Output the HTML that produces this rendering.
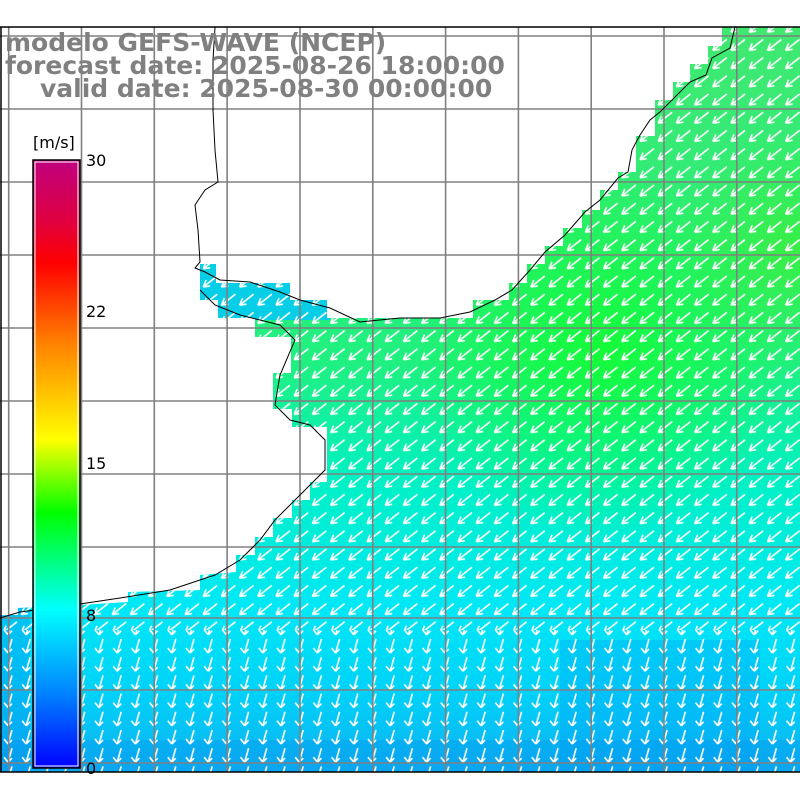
<!DOCTYPE html>
<html><head><meta charset="utf-8"><style>
html,body{margin:0;padding:0;background:#fff;width:800px;height:800px;overflow:hidden}
svg{display:block}
</style></head><body>
<svg width="800" height="800" viewBox="0 0 800 800" xmlns="http://www.w3.org/2000/svg">
<defs>
<linearGradient id="oc" x1="0" y1="0" x2="0" y2="1" gradientUnits="objectBoundingBox">
<stop offset="0" stop-color="#40e870"/>
<stop offset="0.45" stop-color="#20f080"/>
<stop offset="0.62" stop-color="#00f0c8"/>
<stop offset="0.78" stop-color="#00e8f6"/>
<stop offset="0.9" stop-color="#00d0f8"/>
<stop offset="1" stop-color="#10b0f0"/>
</linearGradient>
<radialGradient id="gb" cx="600" cy="350" r="190" gradientUnits="userSpaceOnUse">
<stop offset="0" stop-color="#10ff20" stop-opacity="0.75"/>
<stop offset="1" stop-color="#10ff20" stop-opacity="0"/>
</radialGradient>
<radialGradient id="gb2" cx="790" cy="250" r="120" gradientUnits="userSpaceOnUse">
<stop offset="0" stop-color="#40f020" stop-opacity="0.6"/>
<stop offset="1" stop-color="#40f020" stop-opacity="0"/>
</radialGradient>
<linearGradient id="cb" x1="0" y1="0" x2="0" y2="1">
<stop offset="0" stop-color="#c0007f"/>
<stop offset="0.1" stop-color="#e00040"/>
<stop offset="0.17" stop-color="#ff0000"/>
<stop offset="0.3" stop-color="#ff8000"/>
<stop offset="0.46" stop-color="#ffff00"/>
<stop offset="0.58" stop-color="#00ff00"/>
<stop offset="0.74" stop-color="#00ffff"/>
<stop offset="0.88" stop-color="#0080ff"/>
<stop offset="1" stop-color="#0000ff"/>
</linearGradient>
<pattern id="sw" x="0" y="0" width="18.2" height="18.2" patternUnits="userSpaceOnUse">
<path d="M17,3 L3,14 M3,14 L10,13 M3,14 L6,7" stroke="#fff" stroke-width="1.6" fill="none"/>
</pattern>
<pattern id="dn" x="0" y="0" width="18.2" height="18.2" patternUnits="userSpaceOnUse">
<path d="M12,2 L8,16 M8,16 L4,11 M8,16 L12,12" stroke="#fff" stroke-width="1.6" fill="none"/>
</pattern>
<clipPath id="oclip"><path d="M722,27 L800,27 L800,772 L0,772 L0,615 L18,615 L18,608 L80,605 L128,602 L128,592 L200,590 L200,575 L236,572 L236,555 L255,555 L255,537 L273,537 L273,518 L292,518 L292,500 L310,500 L310,482 L327,482 L327,427 L292,427 L292,409 L273,409 L273,373 L291,373 L291,337 L255,337 L255,318 L218,318 L218,300 L200,300 L200,264 L216,264 L216,283 L290,283 L290,300 L327,300 L327,318 L473,318 L473,300 L509,300 L509,283 L527,283 L527,264 L545,264 L545,246 L563,246 L563,228 L582,228 L582,210 L600,210 L600,190 L618,190 L618,172 L636,172 L636,154 L636,136 L655,136 L655,118 L655,100 L673,100 L673,82 L690,82 L690,64 L708,64 L708,46 L722,46 Z"/></clipPath>
</defs>

<path d="M722,27 L800,27 L800,772 L0,772 L0,615 L18,615 L18,608 L80,605 L128,602 L128,592 L200,590 L200,575 L236,572 L236,555 L255,555 L255,537 L273,537 L273,518 L292,518 L292,500 L310,500 L310,482 L327,482 L327,427 L292,427 L292,409 L273,409 L273,373 L291,373 L291,337 L255,337 L255,318 L218,318 L218,300 L200,300 L200,264 L216,264 L216,283 L290,283 L290,300 L327,300 L327,318 L473,318 L473,300 L509,300 L509,283 L527,283 L527,264 L545,264 L545,246 L563,246 L563,228 L582,228 L582,210 L600,210 L600,190 L618,190 L618,172 L636,172 L636,154 L636,136 L655,136 L655,118 L655,100 L673,100 L673,82 L690,82 L690,64 L708,64 L708,46 L722,46 Z" fill="url(#oc)"/>
<g clip-path="url(#oclip)">
<rect x="0" y="0" width="800" height="800" fill="url(#gb)"/>
<rect x="0" y="0" width="800" height="800" fill="url(#gb2)"/>
<rect x="200" y="260" width="130" height="60" fill="#00c8f8" opacity="0.85"/>
<rect x="0" y="600" width="30" height="172" fill="#0090f0" opacity="0.4"/>
<rect x="560" y="640" width="200" height="130" fill="#00a0f8" opacity="0.3"/>
<rect x="0" y="740" width="800" height="32" fill="#0090f0" opacity="0.3"/>
<rect x="0" y="27" width="800" height="603" fill="url(#sw)"/>
<rect x="0" y="630" width="800" height="142" fill="url(#dn)"/>
</g>

<g stroke="#808080" stroke-width="1.6">
<line x1="8.7" y1="27" x2="8.7" y2="772"/><line x1="81.5" y1="27" x2="81.5" y2="772"/>
<line x1="154.3" y1="27" x2="154.3" y2="772"/><line x1="227.1" y1="27" x2="227.1" y2="772"/>
<line x1="300" y1="27" x2="300" y2="772"/><line x1="372.8" y1="27" x2="372.8" y2="772"/>
<line x1="445.6" y1="27" x2="445.6" y2="772"/><line x1="518.4" y1="27" x2="518.4" y2="772"/>
<line x1="591.2" y1="27" x2="591.2" y2="772"/><line x1="664" y1="27" x2="664" y2="772"/>
<line x1="736.8" y1="27" x2="736.8" y2="772"/>
<line x1="0" y1="36" x2="800" y2="36"/><line x1="0" y1="109" x2="800" y2="109"/>
<line x1="0" y1="182" x2="800" y2="182"/><line x1="0" y1="255" x2="800" y2="255"/>
<line x1="0" y1="328" x2="800" y2="328"/><line x1="0" y1="401" x2="800" y2="401"/>
<line x1="0" y1="474" x2="800" y2="474"/><line x1="0" y1="547" x2="800" y2="547"/>
<line x1="0" y1="618" x2="800" y2="618"/><line x1="0" y1="690" x2="800" y2="690"/>
<line x1="0" y1="763" x2="800" y2="763"/>
</g>
<path d="M735,27 L730,48 L712,58 L706,75 L690,82 L672,100 L660,112 L650,120 L640,135 L632,150 L628,172 L618,178 L600,200 L585,212 L565,235 L545,252 L530,270 L512,290 L495,300 L470,312 L440,318 L400,318 L360,322 L330,308 L300,300 L280,292 L250,282 L220,280 L205,272 L195,268 L200,262 L198,230 L195,205 L205,190 L218,182 L215,150 L213,110 L213,60 L215,27" fill="none" stroke="#000" stroke-width="1"/>
<path d="M200,290 L215,305 L240,315 L280,325 L295,340 L280,375 L275,405 L290,420 L310,425 L325,440 L325,470 L300,495 L275,520 L260,540 L240,560 L215,575 L170,590 L120,598 L80,604 L20,612 L0,618" fill="none" stroke="#000" stroke-width="1"/>
<line x1="0" y1="27" x2="800" y2="27" stroke="#000" stroke-width="1.5"/>
<line x1="0" y1="772" x2="800" y2="772" stroke="#000" stroke-width="1.5"/>
<line x1="1" y1="27" x2="1" y2="772" stroke="#000" stroke-width="1.5"/>

<rect x="33" y="160" width="47" height="608" fill="url(#cb)" stroke="#000" stroke-width="1.5"/>
<rect x="35" y="162" width="43" height="604" fill="none" stroke="#fff" stroke-width="1"/>
<g font-family="DejaVu Sans, sans-serif" font-size="16" fill="#000">
<text x="33" y="148">[m/s]</text>
<text x="86" y="166">30</text>
<text x="86" y="317">22</text>
<text x="86" y="469">15</text>
<text x="86" y="621">8</text>
<text x="86" y="774">0</text>
</g>
<g font-family="DejaVu Sans, sans-serif" font-size="25" font-weight="bold" fill="#808080">
<text x="5" y="51">modelo GEFS-WAVE (NCEP)</text>
<text x="5" y="74">forecast date: 2025-08-26 18:00:00</text>
<text x="40" y="97">valid date: 2025-08-30 00:00:00</text>
</g>
</svg>
</body></html>
